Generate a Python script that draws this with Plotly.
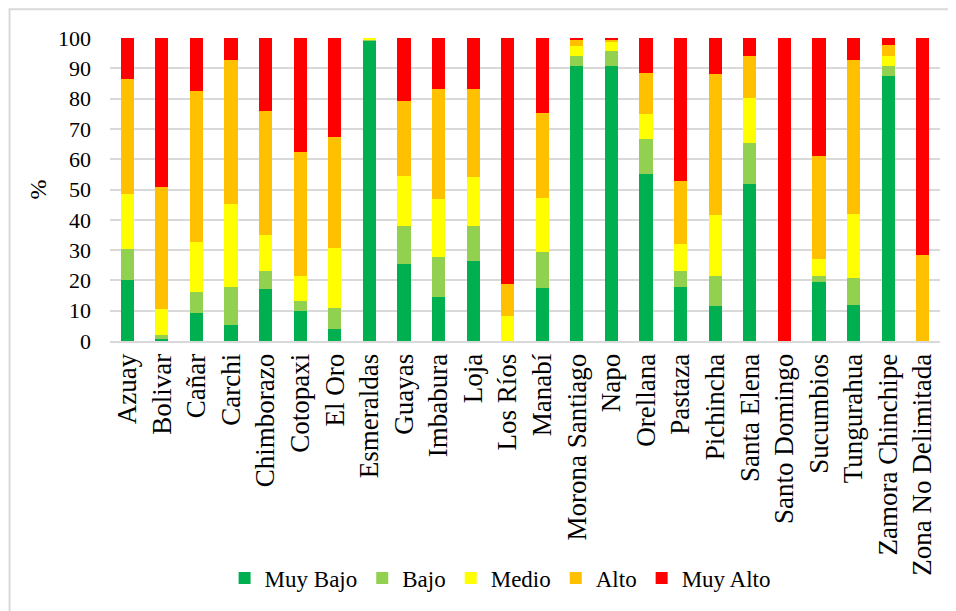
import plotly.graph_objects as go

# Provinces and percentage shares per risk level
provincias = ['Azuay', 'Bolivar', 'Cañar', 'Carchi', 'Chimborazo', 'Cotopaxi', 'El Oro',
              'Esmeraldas', 'Guayas', 'Imbabura', 'Loja', 'Los Ríos', 'Manabí',
              'Morona Santiago', 'Napo', 'Orellana', 'Pastaza', 'Pichincha', 'Santa Elena',
              'Santo Domingo', 'Sucumbios', 'Tungurahua', 'Zamora Chinchipe',
              'Zona No Delimitada']

muy_bajo = [20.0, 0.5, 9.4, 5.2, 17.1, 9.8, 3.9, 99.3, 25.5, 14.5, 26.4, 0.0, 17.5,
            90.9, 90.9, 55.2, 17.9, 11.5, 51.9, 0.0, 19.6, 11.9, 87.6, 0.0]
bajo = [10.2, 1.6, 6.7, 12.7, 5.9, 3.3, 7.1, 0.3, 12.4, 13.2, 11.5, 0.0, 11.9,
        3.0, 4.7, 11.5, 5.1, 9.8, 13.6, 0.0, 1.7, 8.9, 3.3, 0.0]
medio = [18.2, 8.5, 16.7, 27.2, 11.9, 8.2, 19.6, 0.4, 16.6, 19.2, 16.1, 8.1, 17.8,
         3.4, 3.1, 8.1, 8.9, 20.4, 14.8, 0.0, 5.6, 21.2, 3.0, 0.0]
alto = [38.0, 40.3, 49.6, 47.6, 41.1, 41.1, 36.6, 0.0, 24.6, 36.4, 29.3, 10.6, 27.9,
        2.1, 0.6, 13.6, 20.9, 46.4, 13.6, 0.0, 34.3, 50.7, 3.9, 28.4]
muy_alto = [13.6, 49.1, 17.6, 7.3, 24.0, 37.6, 32.8, 0.0, 20.9, 16.7, 16.7, 81.3, 24.9,
            0.6, 0.7, 11.6, 47.2, 11.9, 6.1, 100.0, 38.8, 7.3, 2.2, 71.6]

series = [
    ('Muy Bajo', muy_bajo, '#00b050'),
    ('Bajo', bajo, '#92d050'),
    ('Medio', medio, '#ffff00'),
    ('Alto', alto, '#ffc000'),
    ('Muy Alto', muy_alto, '#ff0000'),
]

serif = 'Liberation Serif, Times New Roman, serif'

fig = go.Figure()
for name, vals, color in series:
    fig.add_trace(go.Bar(x=provincias, y=vals, name=name, marker_color=color,
                         marker_line_width=0))

fig.update_layout(
    barmode='stack',
    bargap=0.62,
    width=956, height=611,
    margin=dict(l=102, r=24, t=30, b=278),
    paper_bgcolor='white',
    plot_bgcolor='white',
    font=dict(family=serif, size=22, color='black'),
    legend=dict(orientation='h', x=0.47, xanchor='center', y=-0.782, yanchor='middle',
                font=dict(family=serif, size=23), itemwidth=30, traceorder='normal'),
    shapes=[dict(type='rect', xref='paper', yref='paper', x0=-0.121, x1=1.05,
                 y0=-1.05, y1=1.095, line=dict(color='#d9d9d9', width=2))],
)
fig.update_yaxes(range=[0, 100], dtick=10, showgrid=True, gridcolor='#d9d9d9',
                 gridwidth=2, zeroline=False, ticks='', ticklabelstandoff=18,
                 tickfont=dict(family=serif, size=22),
                 title=dict(text='%', font=dict(family=serif, size=24), standoff=4))
fig.update_xaxes(tickangle=-90, showline=True, linecolor='#d9d9d9', linewidth=2,
                 tickfont=dict(family=serif, size=27), ticks='')

fig.write_html("out.html")
